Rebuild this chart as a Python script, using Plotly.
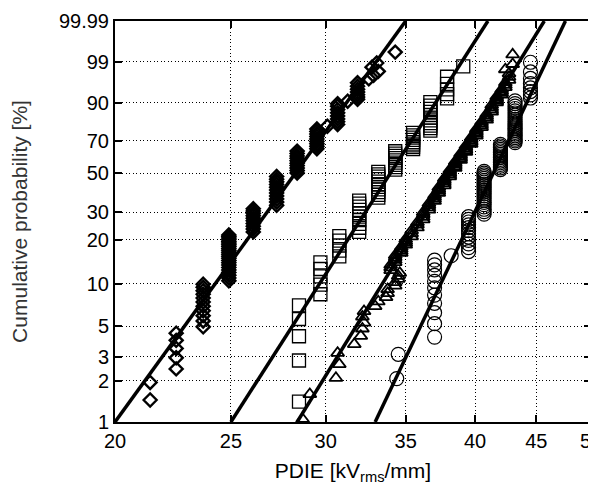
import numpy as np
import plotly.graph_objects as go

# ---------------- data ----------------
x_ticks = [20, 25, 30, 35, 40, 45, 50]
y_ticks = [1, 2, 3, 5, 10, 20, 30, 50, 70, 90, 99, 99.99]
y_tick_labels = ["1", "2", "3", "5", "10", "20", "30", "50", "70", "90", "99", "99.99"]

# Diamonds: (PDIE kV/mm, cumulative probabilities %)
diamond_x = [21.4, 22.5, 23.7, 24.9, 26.1, 27.3, 28.4, 29.5, 30.1, 30.7, 31.3, 31.9,
             32.6, 32.9, 33.2, 32.8, 33.1, 34.3]
diamond_F = [
    [1.45, 1.95],
    [2.45, 2.95, 3.45, 3.95, 4.45],
    [4.95, 5.45, 5.95, 6.45, 6.95, 7.45, 7.95, 8.45, 8.95, 9.45, 9.95],
    [10.5, 11, 11.5, 12, 12.5, 13, 13.5, 14, 14.5, 15, 15.5, 16, 16.5, 17, 17.5, 18,
     18.5, 19, 19.5, 20, 20.5, 21, 21.5],
    [22.5, 23.5, 24.5, 25.5, 26.5, 27.5, 28.5, 29.5, 30.5, 31.5],
    [33, 34.5, 36, 37.5, 39, 40.5, 42, 43.5, 45, 46.5, 48],
    [50, 51.5, 53, 54.5, 56, 57.5, 59, 60.5, 62, 63.5],
    [65, 66.5, 68, 69.5, 71, 72.5, 74, 75.5, 77],
    [78.5],
    [79.5, 81, 82.5, 84, 85.5, 87, 88.5, 89.5],
    [90.5],
    [91.2, 92, 92.8, 93.6, 94.4, 95.2, 96],
    [96.8], [97.4], [98.0], [98.5], [98.9],
    [99.56],
]

# Squares
square_x = [28.5, 29.7, 30.8, 32.0, 33.2, 34.3, 35.5, 36.7, 37.9, 39.1]
square_F = [
    [1.41, 2.82, 4.23, 5.63, 7.04],
    [8.45, 9.86, 11.27, 12.68, 14.08],
    [15.49, 16.90, 18.31, 19.72, 21.13],
    [22.54, 23.94, 25.35, 26.76, 28.17, 29.58, 30.99, 32.39, 33.80, 35.21],
    [36.62, 38.03, 39.44, 40.85, 42.25, 43.66, 45.07, 46.48, 47.89, 49.30, 50.70],
    [52.11, 53.52, 54.93, 56.34, 57.75, 59.15, 60.56, 61.97, 63.38],
    [64.79, 66.20, 67.61, 69.01, 70.42, 71.83, 73.24, 74.65],
    [76.06, 77.46, 78.87, 80.28, 81.69, 83.10, 84.51, 85.92, 87.32, 88.73, 90.14],
    [91.55, 92.96, 94.37, 95.77, 97.18],
    [98.59],
]

# Triangles
triangle_x = [28.7, 29.1, 30.6, 30.8, 30.7, 31.7, 32.1, 32.2, 32.3, 32.2, 32.3, 33.0,
              33.2, 33.7, 33.8, 33.8, 34.3, 34.3, 34.5, 34.5, 34.6,
              34.0, 34.3, 34.7, 35.0, 35.4, 35.8, 36.2, 36.6, 37.0, 37.3, 37.7, 38.1,
              38.5, 38.9, 39.3, 39.7, 40.1, 40.5, 40.9, 41.3, 41.7, 42.1, 42.4, 42.7,
              42.4, 43.0]
triangle_F = [
    [1.05], [1.6], [2.1], [2.65], [3.2], [3.7], [4.25], [4.8], [5.3], [5.85], [6.4],
    [6.95], [7.5], [8.05], [8.6], [9.15], [9.7], [10.25], [10.8], [11.35], [11.9],
    [12.45, 13.0, 13.55],
    [14.1, 14.65, 15.2, 15.75],
    [16.3, 16.85, 17.4, 17.95],
    [18.5, 19.05, 19.6, 20.2],
    [21, 22, 23],
    [24, 25, 26],
    [27, 28, 29, 30],
    [31, 32, 33, 34],
    [35, 36, 37, 38],
    [39, 40, 41, 42],
    [43, 44, 45, 46, 47],
    [48, 49, 50, 51, 52],
    [53, 54, 55, 56, 57],
    [58, 59, 60, 61, 62],
    [63, 64, 65, 66, 67],
    [68, 69, 70, 71, 72],
    [73, 74, 75, 76, 77],
    [78, 79, 80, 81],
    [82, 83, 84, 85],
    [86, 87, 88, 89],
    [90, 90.55, 91.1, 91.65, 92.2],
    [92.75, 93.3, 93.85, 94.4],
    [94.95, 95.5, 96.05],
    [96.6, 97.15, 97.7],
    [98.25],
    [98.8, 99.45],
]

# Circles
circle_x = [34.4, 34.5, 37.0, 38.2, 39.5, 40.7, 42.0, 43.2, 44.5]
circle_F = [
    [2.08],
    [3.13],
    [4.17, 5.21, 6.25, 7.29, 8.33, 9.38, 10.42, 11.46, 12.50, 13.54, 14.58],
    [15.63],
    [16.67, 17.71, 18.75, 19.79, 20.83, 21.88, 22.92, 23.96, 25.00, 26.04, 27.08, 28.13],
    [29.17, 30.21, 31.25, 32.29, 33.33, 34.38, 35.42, 36.46, 37.50, 38.54, 39.58,
     40.63, 41.67, 42.71, 43.75, 44.79, 45.83, 46.88, 47.92, 48.96, 50.00, 51.04],
    [52.08, 53.13, 54.17, 55.21, 56.25, 57.29, 58.33, 59.38, 60.42, 61.46, 62.50,
     63.54, 64.58, 65.63, 66.67, 67.71],
    [68.75, 69.79, 70.83, 71.88, 72.92, 73.96, 75.00, 76.04, 77.08, 78.13, 79.17,
     80.21, 81.25, 82.29, 83.33, 84.38, 85.42, 86.46, 87.50, 88.54, 89.58, 90.63],
    [91.67, 92.71, 93.75, 94.79, 95.83, 96.88, 97.92, 98.96],
]

# Weibull fit lines: PDIE at 1 % and at 99.99 %
fit_F = [1, 99.99]
fit_x_low = [20.0, 25.0, 28.4, 33.0]
fit_x_high = [35.0, 41.0, 45.7, 47.6]


# ---------------- helpers ----------------
def weibull(p):
    p = np.asarray(p, dtype=float) / 100.0
    return np.log(-np.log(1.0 - p))


def expand(xs, fs):
    px, pf = [], []
    for xv, fl in zip(xs, fs):
        for f in fl:
            px.append(xv)
            pf.append(f)
    return px, pf


FONT = "Liberation Sans, Arial, Helvetica, sans-serif"

fig = go.Figure()

series = [
    (diamond_x, diamond_F, "diamond-open", 10, 2.4),
    (square_x, square_F, "square-open", 13, 1.3),
    (triangle_x, triangle_F, "triangle-up-open", 11.5, 1.8),
    (circle_x, circle_F, "circle-open", 14, 1.2),
]
for xs, fs, sym, size, lw in series:
    px, pf = expand(xs, fs)
    fig.add_trace(go.Scatter(
        x=px, y=weibull(pf), mode="markers",
        marker=dict(symbol=sym, size=size, color="black", line=dict(width=lw, color="black")),
        showlegend=False, hoverinfo="skip",
    ))

for xl, xh in zip(fit_x_low, fit_x_high):
    fig.add_trace(go.Scatter(
        x=[xl, xh], y=weibull(fit_F), mode="lines",
        line=dict(color="black", width=3.5),
        showlegend=False, hoverinfo="skip",
    ))

axis_common = dict(
    showgrid=True, gridcolor="black", gridwidth=1, griddash="1px,2.5px",
    zeroline=False, showline=True, linecolor="black", linewidth=2,
    mirror="allticks", ticks="inside", ticklen=7, tickwidth=2, tickcolor="black",
    tickfont=dict(family=FONT, size=20, color="black"),
    automargin=False,
)

fig.update_layout(
    width=596, height=484,
    margin=dict(l=107, r=13, t=13, b=70),
    paper_bgcolor="white", plot_bgcolor="white",
    xaxis=dict(
        type="log", range=[np.log10(20), np.log10(50)],
        tickvals=x_ticks, ticktext=[str(v) for v in x_ticks],
        title=dict(text="PDIE [kV<sub>rms</sub>/mm]", font=dict(family=FONT, size=21, color="black"),
                   standoff=12),
        **axis_common,
    ),
    yaxis=dict(
        range=[float(weibull(1)), float(weibull(99.99))],
        tickvals=weibull(y_ticks).tolist(), ticktext=y_tick_labels,
        title=dict(text="Cumulative probability [%]", font=dict(family=FONT, size=21, color="#333"),
                   standoff=26),
        **axis_common,
    ),
)

fig.write_html("out.html")
